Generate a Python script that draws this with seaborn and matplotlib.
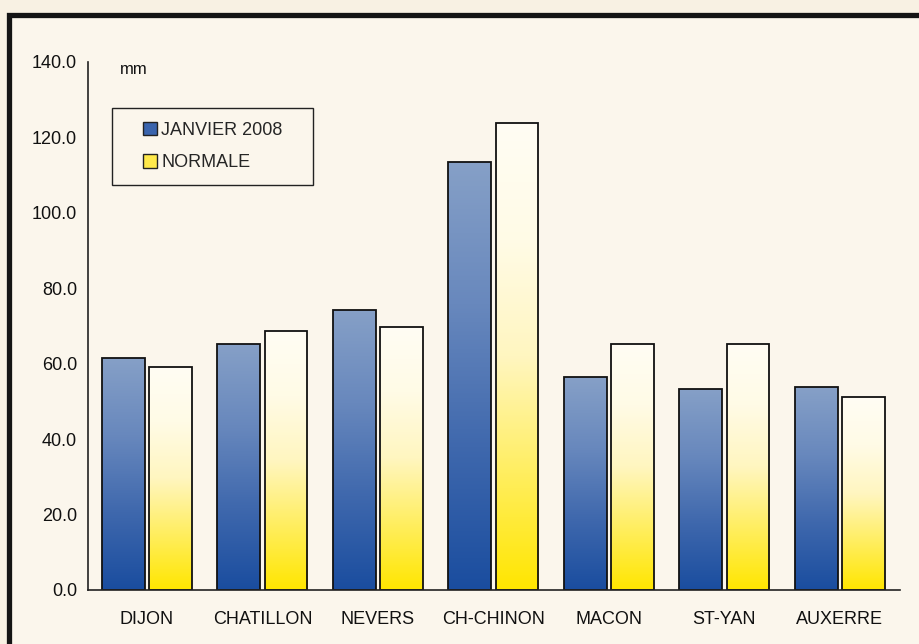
import numpy as np
import pandas as pd
import matplotlib
matplotlib.use("Agg")
import matplotlib.pyplot as plt
from matplotlib.colors import LinearSegmentedColormap
from matplotlib.patches import Rectangle, Patch
import seaborn as sns

stations = ["DIJON", "CHATILLON", "NEVERS", "CH-CHINON", "MACON", "ST-YAN", "AUXERRE"]
janvier_2008 = [61.6, 65.3, 74.3, 113.6, 56.4, 53.3, 53.8]
normale = [59.2, 68.6, 69.8, 123.8, 65.3, 65.3, 51.1]
series_names = ["JANVIER 2008", "NORMALE"]
yticks = [0, 20, 40, 60, 80, 100, 120, 140]

df = pd.DataFrame({
    "station": stations * 2,
    "serie": [series_names[0]] * len(stations) + [series_names[1]] * len(stations),
    "mm": janvier_2008 + normale,
})

sns.set_theme(style="white")
plt.rcParams["font.family"] = ["Liberation Sans", "DejaVu Sans"]

W, H = 920, 644
bg = "#fbf6ec"
fig = plt.figure(figsize=(9.2, 6.44), dpi=100)
fig.patch.set_facecolor("#f8f1e3")
ax = fig.add_axes([88 / W, 1 - 590 / H, (900 - 88) / W, (590 - 62) / H])
ax.set_facecolor("none")

# inner panel and black frame (only top and left visible in the crop)
fig.patches.append(Rectangle((9.5 / W, -0.1), 2.0, (H - 14.5) / H + 0.1,
                             transform=fig.transFigure, facecolor=bg,
                             edgecolor="#141414", linewidth=3.8, zorder=-10))

pal = {series_names[0]: "#3a64ad", series_names[1]: "#ffec30"}
sns.barplot(data=df, x="station", y="mm", hue="serie", palette=pal,
            width=0.82, gap=0.1, ax=ax, legend=False,
            edgecolor="#111111", linewidth=1.3, saturation=1)

blue_cmap = LinearSegmentedColormap.from_list(
    "b", ["#1a4d9f", "#3f68ad", "#6888bd", "#86a0c7"])
yel_cmap = LinearSegmentedColormap.from_list(
    "y", ["#ffe600", "#ffee60", "#fff6c0", "#fffbe6", "#fffdf4"])

grad = np.linspace(0, 1, 256).reshape(-1, 1)
patches = list(ax.patches)
n = len(stations)
for i, p in enumerate(patches):
    x0, y0 = p.get_x(), p.get_y()
    w, h = p.get_width(), p.get_height()
    cmap = blue_cmap if i < n else yel_cmap
    im = ax.imshow(grad, extent=[x0, x0 + w, y0, y0 + h], origin="lower",
                   aspect="auto", cmap=cmap, zorder=1)
    im.set_clip_path(p)
    p.set_facecolor("none")
    p.set_zorder(2)

ax.set_xlim(-0.51, 6.52)
ax.set_ylim(0, 140)
ax.set_yticks(yticks)
ax.set_yticklabels([f"{v:.1f}" for v in yticks])
ax.set_xlabel("")
ax.set_ylabel("")

sns.despine(ax=ax, top=True, right=True)
for s in ["left", "bottom"]:
    ax.spines[s].set_color("#222222")
    ax.spines[s].set_linewidth(1.2)
ax.tick_params(axis="y", direction="out", length=5, width=1.1, color="#222222",
               labelsize=13, pad=3, labelcolor="#111111")
ax.tick_params(axis="x", length=0, labelsize=13, pad=15, labelcolor="#111111")

fig.text(120 / W, 1 - 70 / H, "mm", fontsize=12, color="#111111",
         va="center", ha="left")

# legend box
fig.patches.append(Rectangle((112 / W, 1 - 185 / H), (313 - 112) / W, (185 - 108) / H,
                             transform=fig.transFigure, facecolor=bg,
                             edgecolor="#222222", linewidth=1.0, zorder=5))
handles = [Patch(facecolor="#3a64ad", edgecolor="#222222", linewidth=1.0),
           Patch(facecolor="#ffe94a", edgecolor="#222222", linewidth=1.0)]
leg = fig.legend(handles, series_names, loc="upper left",
                 bbox_to_anchor=(143 / W, 1 - 122 / H),
                 frameon=False, fontsize=13,
                 handlelength=0.75, handleheight=0.75, handletextpad=0.25,
                 labelspacing=0.85, borderpad=0, borderaxespad=0)
leg.set_zorder(6)

fig.savefig("out.png", dpi=100, facecolor=fig.get_facecolor())
